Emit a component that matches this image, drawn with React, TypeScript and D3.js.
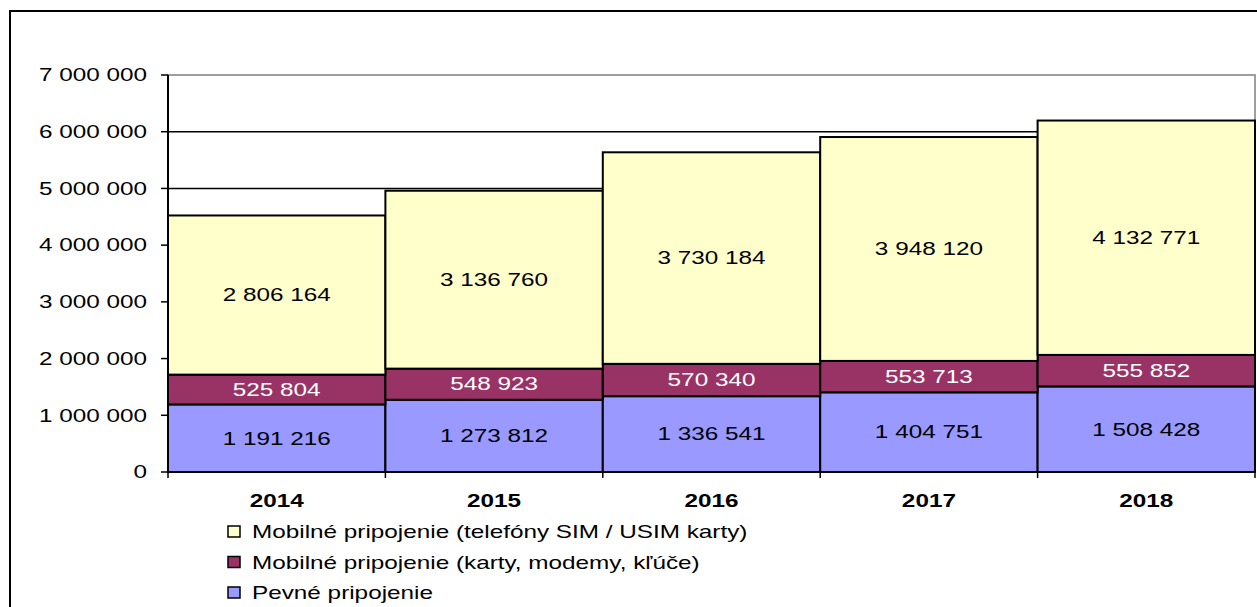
import { scaleBand, scaleLinear, stack, format } from "d3";

const years = ["2014", "2015", "2016", "2017", "2018"];
const pevne = [1191216, 1273812, 1336541, 1404751, 1508428];
const karty = [525804, 548923, 570340, 553713, 555852];
const telefony = [2806164, 3136760, 3730184, 3948120, 4132771];
const yTicks = [0, 1000000, 2000000, 3000000, 4000000, 5000000, 6000000, 7000000];

const seriesKeys = ["pevne", "karty", "telefony"];
const seriesColors: Record<string, string> = {
  pevne: "#9999FF",
  karty: "#993366",
  telefony: "#FFFFCC",
};
const labelColors: Record<string, string> = {
  pevne: "#000",
  karty: "#fff",
  telefony: "#000",
};
const legendItems = [
  { key: "telefony", label: "Mobilné pripojenie (telefóny SIM / USIM karty)" },
  { key: "karty", label: "Mobilné pripojenie (karty, modemy, kľúče)" },
  { key: "pevne", label: "Pevné pripojenie" },
];

const W = 1257;
const H = 607;
const plot = { left: 168, right: 1255, top: 75, bottom: 472 };
const font = "Arial, 'Liberation Sans', sans-serif";
// the original export stretches text horizontally
const SX = 1.35;

const fmt = (v: number) => format(",")(v).replace(/,/g, " ");

interface STextProps {
  x: number;
  y: number;
  anchor?: "start" | "middle" | "end";
  size?: number;
  weight?: string;
  fill?: string;
  children: string;
}

function SText({ x, y, anchor = "middle", size = 18, weight = "normal", fill = "#000", children }: STextProps) {
  return (
    <text
      transform={`translate(${x},${y}) scale(${SX},1)`}
      dy="0.35em"
      textAnchor={anchor}
      fontSize={size}
      fontWeight={weight}
      fill={fill}
    >
      {children}
    </text>
  );
}

export default function App() {
  const rows = years.map((year, i) => ({
    year,
    pevne: pevne[i],
    karty: karty[i],
    telefony: telefony[i],
  }));
  const layers = stack<any>().keys(seriesKeys)(rows);

  const x = scaleBand().domain(years).range([plot.left, plot.right]).padding(0);
  const y = scaleLinear().domain([0, 7000000]).range([plot.bottom, plot.top]);

  return (
    <svg
      width={W}
      height={H}
      style={{ position: "absolute", left: 0, top: 0, background: "#fff" }}
      fontFamily={font}
    >
      {/* outer frame */}
      <rect x={10} y={11} width={W + 20} height={H + 20} fill="none" stroke="#000" strokeWidth={2} />

      {/* plot area border */}
      <rect
        x={plot.left}
        y={plot.top}
        width={plot.right - plot.left}
        height={plot.bottom - plot.top}
        fill="none"
        stroke="#808080"
        strokeWidth={1.5}
      />

      {/* gridlines */}
      {yTicks.slice(1, -1).map((t) => (
        <line key={`g-${t}`} x1={plot.left} x2={plot.right} y1={y(t)} y2={y(t)} stroke="#000" strokeWidth={1.5} />
      ))}

      {/* bars */}
      {layers.map((layer) =>
        layer.map((d, i) => (
          <rect
            key={`${layer.key}-${i}`}
            x={x(years[i])}
            y={y(d[1])}
            width={x.bandwidth()}
            height={y(d[0]) - y(d[1])}
            fill={seriesColors[layer.key]}
            stroke="#000"
            strokeWidth={2}
          />
        ))
      )}

      {/* value labels */}
      {layers.map((layer) =>
        layer.map((d, i) => (
          <SText
            key={`l-${layer.key}-${i}`}
            x={(x(years[i]) ?? 0) + x.bandwidth() / 2}
            y={(y(d[0]) + y(d[1])) / 2}
            fill={labelColors[layer.key]}
          >
            {fmt(d[1] - d[0])}
          </SText>
        ))
      )}

      {/* y axis */}
      <line x1={plot.left} x2={plot.left} y1={plot.top} y2={plot.bottom} stroke="#000" strokeWidth={2} />
      {yTicks.map((t) => (
        <g key={`y-${t}`}>
          <line x1={plot.left - 7} x2={plot.left} y1={y(t)} y2={y(t)} stroke="#000" strokeWidth={1.5} />
          <SText x={plot.left - 21} y={y(t)} anchor="end">
            {fmt(t)}
          </SText>
        </g>
      ))}

      {/* x axis */}
      <line x1={plot.left} x2={plot.right} y1={plot.bottom} y2={plot.bottom} stroke="#000" strokeWidth={2} />
      {[...years.map((yr) => x(yr) ?? 0), plot.right].map((px, i) => (
        <line key={`xt-${i}`} x1={px} x2={px} y1={plot.bottom} y2={plot.bottom + 6} stroke="#000" strokeWidth={1.5} />
      ))}
      {years.map((yr) => (
        <SText key={`xl-${yr}`} x={(x(yr) ?? 0) + x.bandwidth() / 2} y={501} weight="bold">
          {yr}
        </SText>
      ))}

      {/* legend */}
      {legendItems.map((item, i) => (
        <g key={`lg-${item.key}`} transform={`translate(228, ${532 + i * 30.5})`}>
          <rect x={0} y={-6} width={12} height={11} fill={seriesColors[item.key]} stroke="#000" strokeWidth={1.5} />
          <SText x={24} y={0} anchor="start">
            {item.label}
          </SText>
        </g>
      ))}
    </svg>
  );
}
